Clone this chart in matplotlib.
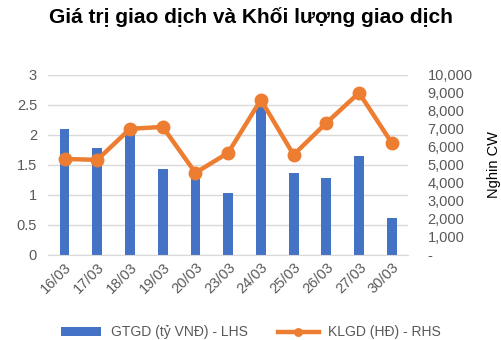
import numpy as np
import matplotlib.pyplot as plt
from matplotlib.ticker import FuncFormatter

# Dữ liệu giao dịch
ngay = ['16/03', '17/03', '18/03', '19/03', '20/03', '23/03', '24/03',
        '25/03', '26/03', '27/03', '30/03']
gtgd = [2.1, 1.78, 2.12, 1.43, 1.28, 1.03, 2.52, 1.37, 1.28, 1.64, 0.62]
klgd = [5330, 5280, 7000, 7110, 4560, 5670, 8610, 5560, 7330, 9000, 6220]

plt.rcParams['font.family'] = ['Liberation Sans', 'DejaVu Sans']

fig = plt.figure(figsize=(5.02, 3.4), dpi=100)
ax = fig.add_axes([0.096, 0.25, 0.717, 0.53])
x = np.arange(len(ngay))

ax.bar(x, gtgd, width=0.3, color='#4472C4', label='GTGD (tỷ VNĐ) - LHS', zorder=2)
ax.set_ylim(0, 3)
ax.set_yticks(np.arange(0, 3.01, 0.5))
ax.yaxis.set_major_formatter(FuncFormatter(lambda v, p: f'{v:g}'))
ax.set_xlim(-0.5, len(ngay) - 0.5)
ax.set_xticks(x)
ax.set_xticklabels(ngay, rotation=45, ha='right', rotation_mode='anchor')
ax.grid(axis='y', color='#d9d9d9', linewidth=1, zorder=0)
for s in ax.spines.values():
    s.set_visible(False)
ax.spines['bottom'].set_visible(True)
ax.spines['bottom'].set_color('#d9d9d9')
ax.tick_params(length=0, colors='#595959', labelsize=10.5)
ax.tick_params(axis='y', pad=8)

ax2 = ax.twinx()
ax2.plot(x, klgd, color='#ED7D31', linewidth=3.2, marker='o', markersize=9,
         label='KLGD (HĐ) - RHS', zorder=3)
ax2.set_ylim(0, 10000)
ax2.set_yticks(np.arange(0, 10001, 1000))
ax2.yaxis.set_major_formatter(FuncFormatter(lambda v, p: '-' if v == 0 else f'{v:,.0f}'))
for s in ax2.spines.values():
    s.set_visible(False)
ax2.tick_params(length=0, colors='#595959', labelsize=10.5, pad=14)
ax2.set_ylabel('Nghin CW', fontsize=10.5, labelpad=10)

fig.suptitle('Giá trị giao dịch và Khối lượng giao dịch', fontsize=15,
             fontweight='bold', y=0.98)

h1, l1 = ax.get_legend_handles_labels()
h2, l2 = ax2.get_legend_handles_labels()
fig.legend(h1 + h2, l1 + l2, loc='lower center', ncol=2, frameon=False,
           fontsize=10, labelcolor='#595959', bbox_to_anchor=(0.5, -0.035),
           columnspacing=2.2, handlelength=2.9, handletextpad=0.7,
           markerscale=0.6)

fig.savefig('out.png', dpi=100)
